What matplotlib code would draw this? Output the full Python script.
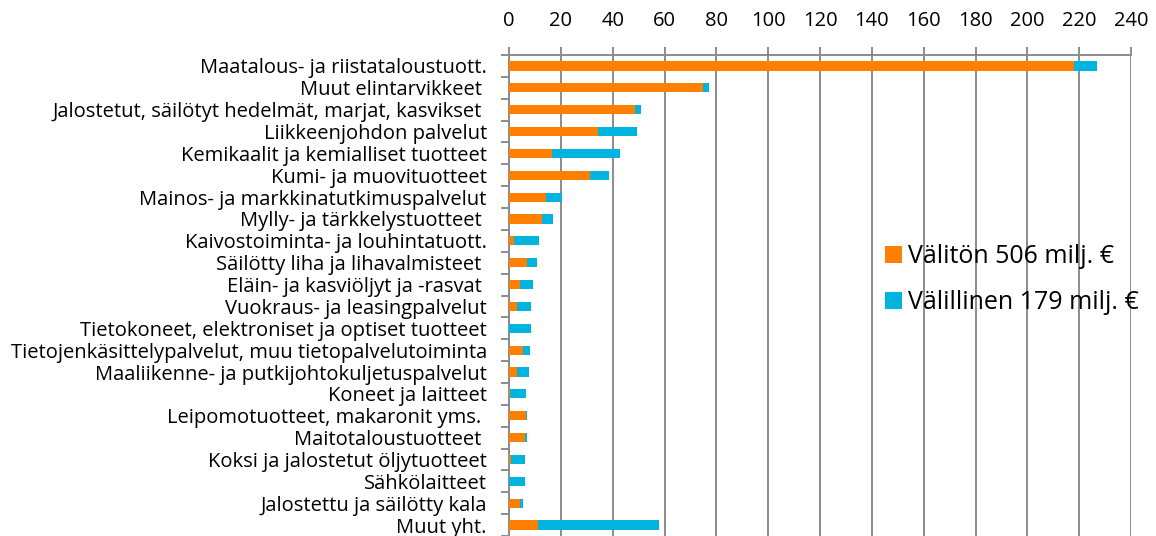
import numpy as np
import matplotlib
matplotlib.use('Agg')
import matplotlib.pyplot as plt
from matplotlib.ticker import FixedLocator

plt.rcParams['font.family'] = ['Open Sans', 'DejaVu Sans']

# toimialat (ylhäältä alas)
toimialat = [
    'Maatalous- ja riistataloustuott.',
    'Muut elintarvikkeet ',
    'Jalostetut, säilötyt hedelmät, marjat, kasvikset ',
    'Liikkeenjohdon palvelut',
    'Kemikaalit ja kemialliset tuotteet',
    'Kumi- ja muovituotteet',
    'Mainos- ja markkinatutkimuspalvelut',
    'Mylly- ja tärkkelystuotteet ',
    'Kaivostoiminta- ja louhintatuott.',
    'Säilötty liha ja lihavalmisteet ',
    'Eläin- ja kasviöljyt ja -rasvat ',
    'Vuokraus- ja leasingpalvelut',
    'Tietokoneet, elektroniset ja optiset tuotteet',
    'Tietojenkäsittelypalvelut, muu tietopalvelutoiminta',
    'Maaliikenne- ja putkijohtokuljetuspalvelut',
    'Koneet ja laitteet',
    'Leipomotuotteet, makaronit yms. ',
    'Maitotaloustuotteet ',
    'Koksi ja jalostetut öljytuotteet',
    'Sähkölaitteet',
    'Jalostettu ja säilötty kala',
    'Muut yht.',
]
# välitön vaikutus, milj. €
valiton = [218.0, 75.0, 48.7, 34.4, 16.7, 31.4, 14.1, 12.6, 1.9, 7.0, 4.1,
           3.2, 0.0, 5.5, 3.2, 0.2, 6.5, 6.3, 0.9, 0.0, 4.1, 11.2]
# välillinen vaikutus, milj. €
valillinen = [9.0, 2.3, 2.3, 14.8, 26.3, 7.1, 6.4, 4.3, 9.8, 3.8, 5.3,
              5.3, 8.5, 2.7, 4.4, 6.5, 0.3, 0.5, 5.1, 6.0, 1.3, 46.6]
selitteet = ['Välitön 506 milj. €', 'Välillinen 179 milj. €']

harmaa = '#8c8c8c'
oranssi = '#ff8000'
sininen = '#00b4e0'

fig = plt.figure(figsize=(11.56, 5.36), dpi=100)
ax = fig.add_axes([509 / 1156, 0.0, (1131 - 509) / 1156, 1 - 55 / 536])

y = np.arange(len(toimialat))
b1 = ax.barh(y, valiton, height=0.42, color=oranssi, label=selitteet[0], zorder=3)
b2 = ax.barh(y, valillinen, left=valiton, height=0.42, color=sininen,
             label=selitteet[1], zorder=3)

ax.set_ylim(len(toimialat) - 0.5, -0.5)
ax.set_xlim(0, 240)
ax.set_xticks(np.arange(0, 241, 20))

ax.xaxis.tick_top()
ax.tick_params(axis='x', which='major', direction='out', length=6, width=1.4,
               color=harmaa, labelsize=14.5, pad=11)
ax.grid(axis='x', color=harmaa, linewidth=1.4, zorder=0)

ax.set_yticks(y)
ax.set_yticklabels(toimialat)
ax.yaxis.set_minor_locator(FixedLocator(np.arange(-0.5, len(toimialat), 1)))
ax.tick_params(axis='y', which='major', length=0, labelsize=14.5, pad=16)
ax.tick_params(axis='y', which='minor', length=6, width=1.4, color=harmaa)

for s in ['left', 'top']:
    ax.spines[s].set_color(harmaa)
    ax.spines[s].set_linewidth(1.4)
ax.spines['right'].set_visible(False)
ax.spines['bottom'].set_visible(False)

fig.legend(handles=[b1, b2], loc='upper left', bbox_to_anchor=(875 / 1156, 1 - 234 / 536),
           frameon=False, fontsize=18, handlelength=0.68, handleheight=0.68,
           handletextpad=0.25, labelspacing=0.85, borderaxespad=0)

fig.savefig('out.png', dpi=100)
